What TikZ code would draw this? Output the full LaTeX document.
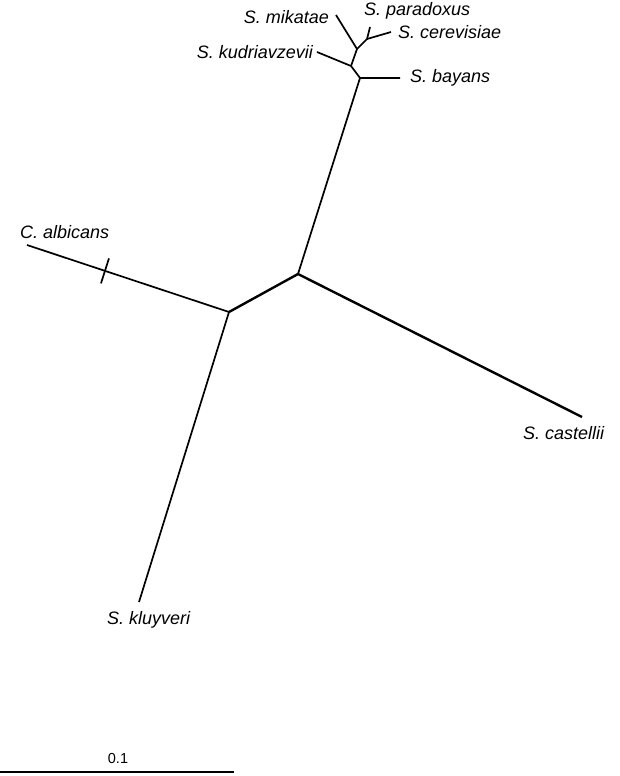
\documentclass[tikz,border=0pt]{standalone}
\usepackage{fontspec}
\setmainfont{Liberation Sans}
\begin{document}
\begin{tikzpicture}[x=1pt,y=-1pt,
    branch/.style={line width=1.7pt},
    bold branch/.style={line width=2.4pt},
    taxon/.style={font=\fontsize{18}{20}\selectfont\itshape, inner sep=0pt},
    scalelabel/.style={font=\fontsize{14.5}{16}\selectfont, inner sep=0pt}]
    \useasboundingbox (0,0) rectangle (620,776);
    % inner nodes
    \coordinate (a) at (298,274);
    \coordinate (b) at (229,312);
    \coordinate (c) at (360,78);
    \coordinate (d) at (351,66);
    \coordinate (e) at (357,49);
    \coordinate (f) at (367,39);
    % tips
    \coordinate (tcal) at (27,245);
    \coordinate (tklu) at (139,602);
    \coordinate (tcas) at (582,417);
    \coordinate (tbay) at (400,78);
    \coordinate (tkud) at (317,52);
    \coordinate (tmik) at (336,15);
    \coordinate (tpar) at (370,27);
    \coordinate (tcer) at (391,32);
    % branches
    \draw[bold branch] (b) -- (a) -- (tcas);
    \draw[branch] (a) -- (c) -- (tbay);
    \draw[branch] (c) -- (d) -- (tkud);
    \draw[branch] (d) -- (e) -- (tmik);
    \draw[branch] (e) -- (f) -- (tpar);
    \draw[branch] (f) -- (tcer);
    \draw[branch] (b) -- (tklu);
    \draw[branch] (b) -- (tcal) coordinate[pos=0.614] (tick);
    \draw[branch] ([shift={(4,-12.5)}]tick) -- ([shift={(-4,12.5)}]tick);
    % labels
    \node[taxon, anchor=east] (lmik) at (329,17) {S. mikatae};
    \node[taxon, anchor=west] (lpar) at (364,11) {S. paradoxus};
    \node[taxon, anchor=west] (lcer) at (398,32) {S. cerevisiae};
    \node[taxon, anchor=east] (lkud) at (313,52) {S. kudriavzevii};
    \node[taxon, anchor=west] (lbay) at (410,78) {S. bayans};
    \node[taxon, anchor=west] (lcal) at (20,232) {C. albicans};
    \node[taxon, anchor=west] (lcas) at (523,433) {S. castellii};
    \node[taxon, anchor=west] (lklu) at (107,620) {S. kluyveri};
    % scale bar
    \coordinate (s0) at (0,772);
    \coordinate (s1) at (234,772);
    \draw[line width=2.3pt] (s0) -- (s1);
    \node[scalelabel] (lscale) at (118,758) {0.1};
\end{tikzpicture}
\end{document}
